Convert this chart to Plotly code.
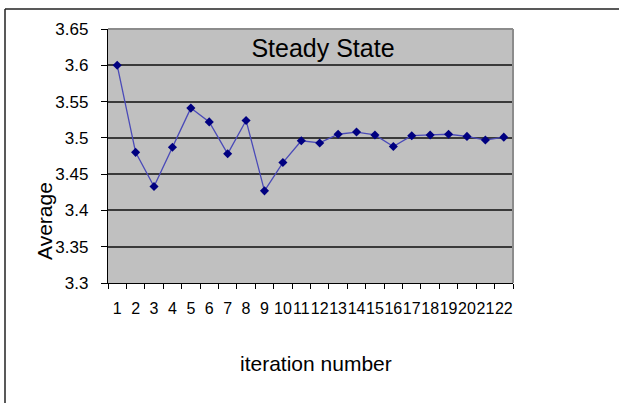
import plotly.graph_objects as go

iterations = list(range(1, 23))
averages = [3.600, 3.480, 3.433, 3.487, 3.541, 3.522, 3.478, 3.524, 3.427, 3.466,
            3.496, 3.493, 3.505, 3.508, 3.504, 3.488, 3.503, 3.504, 3.505, 3.502,
            3.497, 3.501]
y_tickvals = [3.3, 3.35, 3.4, 3.45, 3.5, 3.55, 3.6, 3.65]
y_ticktext = ["3.3", "3.35", "3.4", "3.45", "3.5", "3.55", "3.6", "3.65"]
x_ticktext = [str(i) for i in iterations]

FONT = "Liberation Sans, Arial, sans-serif"
W, H = 619, 403
L, R, T, B = 108, 106, 29, 120
pw, ph = W - L - R, H - T - B

def px_x(x):
    return (x - L) / pw

def px_y(y):
    return (H - B - y) / ph

fig = go.Figure()
fig.add_trace(go.Scatter(
    x=iterations, y=averages, mode="lines+markers",
    line=dict(color="#4a4ab8", width=1.3),
    marker=dict(symbol="diamond", size=7, color="#000080"),
    showlegend=False, cliponaxis=False,
))

fig.update_layout(
    width=W, height=H,
    margin=dict(l=L, r=R, t=T, b=B, pad=0, autoexpand=False),
    paper_bgcolor="white", plot_bgcolor="#c0c0c0",
    font=dict(family=FONT, color="black"),
    title=dict(text="Steady State", font=dict(size=25, color="black", family=FONT),
               xref="paper", x=px_x(323), xanchor="center",
               yref="container", y=1 - 48 / H, yanchor="middle"),
    xaxis=dict(
        range=[0.5, 22.5], tickmode="array", tickvals=iterations, ticktext=x_ticktext,
        ticks="", tickfont=dict(size=16), ticklabelstandoff=11, tickangle=0,
        automargin=False,
        showgrid=False, zeroline=False,
        showline=True, linecolor="black", linewidth=1.2,
        minor=dict(tick0=0.5, dtick=1, ticks="outside", ticklen=5,
                   tickcolor="black", tickwidth=1, showgrid=False),
        fixedrange=True,
    ),
    yaxis=dict(
        range=[3.3, 3.65], tickmode="array", tickvals=y_tickvals, ticktext=y_ticktext,
        ticks="outside", ticklen=6, tickcolor="black", tickwidth=1,
        tickfont=dict(size=17), ticklabelstandoff=9, automargin=False,
        showgrid=True, gridcolor="#3a3a3a", gridwidth=2, zeroline=False,
        showline=True, linecolor="black", linewidth=1.2,
        fixedrange=True,
    ),
    annotations=[
        dict(text="iteration number", xref="paper", yref="paper",
             x=px_x(316), y=px_y(364), xanchor="center", yanchor="middle",
             showarrow=False, font=dict(size=21)),
        dict(text="Average", xref="paper", yref="paper", textangle=-90,
             x=px_x(44), y=px_y(221), xanchor="center", yanchor="middle",
             showarrow=False, font=dict(size=21)),
    ],
)

# Gray frame on top/right of the plot area
fig.add_shape(type="line", xref="paper", yref="paper", x0=0, x1=1, y0=1, y1=1,
              line=dict(color="#8c8c8c", width=2))
fig.add_shape(type="line", xref="paper", yref="paper", x0=1, x1=1, y0=0, y1=1,
              line=dict(color="#8c8c8c", width=2))

# Outer chart frame (top and left edges visible)
fig.add_shape(type="line", xref="paper", yref="paper",
              x0=px_x(5), x1=px_x(W), y0=px_y(9), y1=px_y(9),
              line=dict(color="#222222", width=1.5))
fig.add_shape(type="line", xref="paper", yref="paper",
              x0=px_x(5), x1=px_x(5), y0=px_y(9), y1=px_y(H),
              line=dict(color="#222222", width=1.5))

fig.write_html("out.html",
               config={"displayModeBar": False, "staticPlot": True},
               post_script="document.body.style.margin='0';document.body.style.overflow='hidden';")
